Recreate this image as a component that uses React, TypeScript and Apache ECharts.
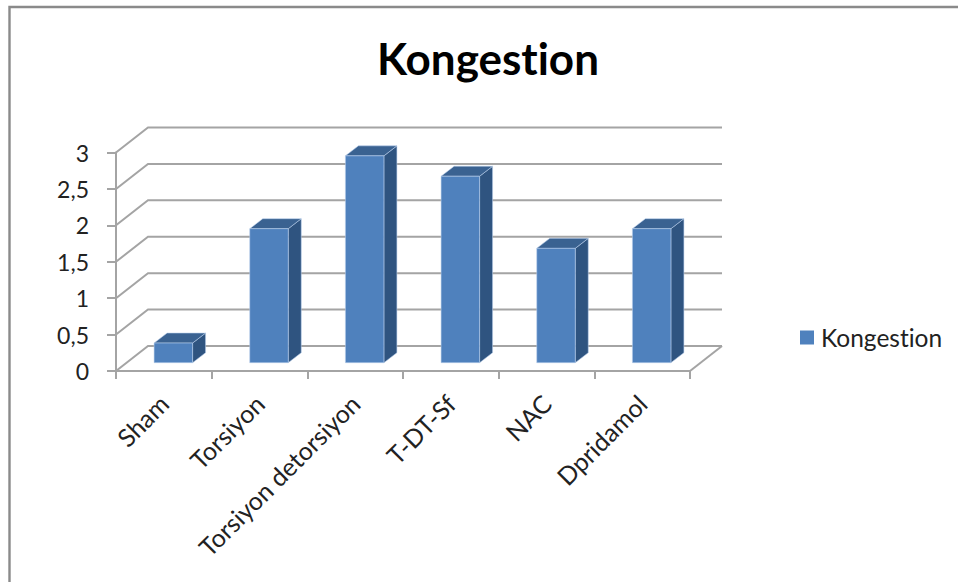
import React, { useEffect, useRef } from "react";
import * as echarts from "echarts";

const titleText = "Kongestion";
const seriesName = "Kongestion";
const categories = ["Sham", "Torsiyon", "Torsiyon detorsiyon", "T-DT-Sf", "NAC", "Dpridamol"];
const values = [0.27, 1.84, 2.84, 2.56, 1.57, 1.84];
const gridTicks = [0, 0.5, 1, 1.5, 2, 2.5, 3];

const WALL_DX = 32;
const WALL_DY = -25;
const BAR_OFF_X = 9.5;
const BAR_OFF_Y = -8.3;
const BAR_W = 38.5;
const DEPTH_X = 13;
const DEPTH_Y = -10;
const GRID_COLOR = "#a4a4a4";
const LINE_W = 2;
const FONT = "Lato, 'Open Sans', sans-serif";

export default function App() {
  const ref = useRef<HTMLDivElement>(null);
  useEffect(() => {
    const chart = echarts.init(ref.current!, null, { renderer: "svg" });
    chart.setOption({
      animation: false,
      backgroundColor: "#ffffff",
      title: {
        text: titleText,
        left: 483,
        top: 31,
        textAlign: "center",
        textStyle: { fontFamily: FONT, fontSize: 44, fontWeight: "bold", color: "#000" },
      },
      legend: {
        data: [seriesName],
        left: 795,
        top: 320,
        icon: "rect",
        itemWidth: 14,
        itemHeight: 14,
        itemGap: 0,
        textStyle: { fontFamily: FONT, fontSize: 24.5, color: "#222", padding: [0, 0, 0, 2] },
      },
      grid: { left: 116, right: 268, top: 152.5, bottom: 211, containLabel: false },
      xAxis: {
        type: "category",
        data: categories,
        axisLine: { show: true, lineStyle: { color: GRID_COLOR, width: LINE_W } },
        axisTick: { show: true, length: 8, alignWithLabel: false, lineStyle: { color: GRID_COLOR, width: LINE_W } },
        axisLabel: {
          rotate: 45,
          interval: 0,
          margin: 28,
          fontFamily: FONT,
          fontSize: 25,
          color: "#222",
        },
      },
      yAxis: {
        type: "value",
        min: 0,
        max: 3,
        interval: 0.5,
        splitLine: { show: false },
        axisLine: { show: true, lineStyle: { color: GRID_COLOR, width: LINE_W } },
        axisTick: { show: true, length: 9, lineStyle: { color: GRID_COLOR, width: LINE_W } },
        axisLabel: {
          margin: 27,
          fontFamily: FONT,
          fontSize: 23,
          color: "#222",
          formatter: (v: number) => String(v).replace(".", ","),
        },
      },
      graphic: [
        {
          type: "polyline",
          silent: true,
          shape: { points: [[9.5, 582], [9.5, 7], [958, 7]] },
          style: { stroke: "#8a8a8a", lineWidth: 2.4, fill: "none" },
        },
      ],
      series: [
        {
          type: "custom",
          name: "walls",
          silent: true,
          z: 1,
          data: gridTicks.map((t) => [0, t]),
          encode: { x: 0, y: 1 },
          renderItem: (params: any, api: any) => {
            const v = api.value(1);
            const y = api.coord([0, v])[1];
            const cs = params.coordSys;
            const x0 = cs.x;
            const x1 = cs.x + cs.width;
            const children: any[] = [
              {
                type: "polyline",
                shape: { points: [[x0, y], [x0 + WALL_DX, y + WALL_DY], [x1 + WALL_DX, y + WALL_DY]] },
                style: { stroke: GRID_COLOR, lineWidth: LINE_W, fill: "none" },
              },
            ];
            if (v === 0) {
              children.push({
                type: "line",
                shape: { x1, y1: y, x2: x1 + WALL_DX, y2: y + WALL_DY },
                style: { stroke: GRID_COLOR, lineWidth: LINE_W },
              });
            }
            return { type: "group", children };
          },
        },
        {
          type: "custom",
          name: seriesName,
          z: 2,
          itemStyle: { color: "#4f81bd" },
          data: values.map((v, i) => [i, v]),
          encode: { x: 0, y: 1 },
          renderItem: (_params: any, api: any) => {
            const top = api.coord([api.value(0), api.value(1)]);
            const base = api.coord([api.value(0), 0]);
            const l = base[0] - BAR_W / 2 + BAR_OFF_X;
            const r = l + BAR_W;
            const t = top[1] + BAR_OFF_Y;
            const b = base[1] + BAR_OFF_Y;
            const edge = { stroke: "rgba(185,208,236,0.55)", lineWidth: 1 };
            return {
              type: "group",
              children: [
                {
                  type: "polygon",
                  shape: { points: [[r, t], [r + DEPTH_X, t + DEPTH_Y], [r + DEPTH_X, b + DEPTH_Y], [r, b]] },
                  style: { fill: "#2f5480", ...edge },
                },
                {
                  type: "polygon",
                  shape: { points: [[l, t], [l + DEPTH_X, t + DEPTH_Y], [r + DEPTH_X, t + DEPTH_Y], [r, t]] },
                  style: { fill: "#3a6291", ...edge },
                },
                {
                  type: "rect",
                  shape: { x: l, y: t, width: BAR_W, height: b - t },
                  style: { fill: "#4f81bd", ...edge },
                },
              ],
            };
          },
        },
      ],
    });
    return () => chart.dispose();
  }, []);
  return (
    <div
      ref={ref}
      style={{ position: "absolute", left: 0, top: 0, width: 958, height: 582, fontVariantLigatures: "none" }}
    />
  );
}
